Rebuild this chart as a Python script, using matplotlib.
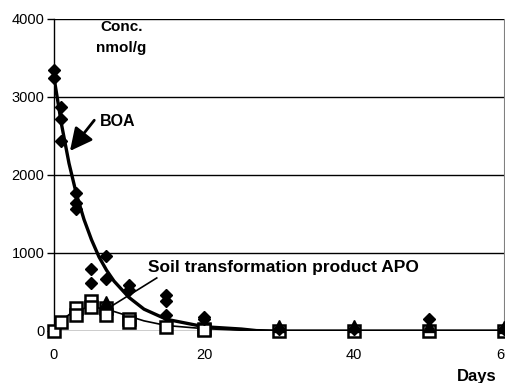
import matplotlib.pyplot as plt

plt.rcParams['font.family'] = ['Liberation Sans', 'DejaVu Sans']

# measured BOA concentrations (nmol/g), diamonds
boa_days = [0, 0, 1, 1, 1, 3, 3, 3, 5, 5, 7, 7, 10, 10, 15, 15, 15, 20, 20, 30, 40, 50, 60]
boa_vals = [3350, 3250, 2870, 2720, 2430, 1770, 1640, 1570, 800, 620, 960, 670,
            590, 530, 460, 390, 205, 180, 150, 30, 30, 150, 30]

# soil transformation product APO, open squares
apo_days = [0, 1, 3, 3, 5, 5, 7, 7, 10, 10, 15, 20, 20, 30, 40, 50, 60]
apo_vals = [0, 120, 290, 200, 390, 310, 300, 210, 150, 120, 55, 30, 10, 0, 0, 0, 0]

# filled triangles
tri_days = [7, 30, 40, 50, 60]
tri_vals = [370, 60, 60, 60, 50]

# fitted curves
boa_fit_days = [0, 1, 2, 3, 4, 5, 6, 7, 8, 10, 12, 15, 20, 25, 27, 30, 40, 50, 60]
boa_fit_vals = [3250, 2650, 2150, 1750, 1430, 1170, 950, 780, 640, 430, 280, 150, 55, 25, 5, 0, 0, 0, 0]
apo_fit_days = [0, 1, 2, 3, 4, 5, 6, 7, 8, 10, 12, 15, 20, 25, 30, 40, 50, 60]
apo_fit_vals = [0, 130, 210, 260, 290, 300, 295, 280, 250, 190, 130, 70, 30, 10, 0, 0, 0, 0]

fig = plt.figure(figsize=(5.06, 3.83), dpi=100)
ax = fig.add_axes([54 / 506, 52 / 383, 450 / 506, 312 / 383])

ax.plot(boa_fit_days, boa_fit_vals, color='black', lw=2.4, zorder=3)
ax.plot(apo_fit_days, apo_fit_vals, color='black', lw=1.2, zorder=3)
ax.plot(apo_days, apo_vals, 's', ms=8, mfc='white', mec='black', mew=1.8, zorder=4, clip_on=False)
ax.plot(boa_days, boa_vals, 'D', ms=6.5, color='black', zorder=5, clip_on=False)
ax.plot(tri_days, tri_vals, '^', ms=8, color='black', zorder=6, clip_on=False)

ax.set_xlim(0, 60)
ax.set_ylim(0, 4000)
ax.set_xticks([0, 20, 40, 60])
ax.set_yticks([0, 1000, 2000, 3000, 4000])
ax.tick_params(axis='x', length=0, pad=12, labelsize=10.5)
ax.tick_params(axis='y', length=5, width=1, pad=2, labelsize=10.5)
ax.grid(axis='y', color='black', lw=1)
ax.set_axisbelow(True)
for s in ['top', 'bottom']:
    ax.spines[s].set_visible(False)
ax.spines['left'].set_linewidth(1)
ax.spines['right'].set_color('#808080')

ax.text(9.0, 3897, 'Conc.', fontsize=11, fontweight='bold', ha='center', va='center')
ax.text(8.9, 3628, 'nmol/g', fontsize=11, fontweight='bold', ha='center', va='center')

ax.annotate('', xy=(1.9, 2280), xytext=(5.6, 2730),
            arrowprops=dict(arrowstyle='-|>', color='black', lw=2, mutation_scale=34))
ax.text(6.1, 2692, 'BOA', fontsize=11.5, fontweight='bold', ha='left', va='center')

ax.plot([13.7, 7.9], [680, 333], color='black', lw=1.2, zorder=3)
ax.text(12.5, 820, 'Soil transformation product APO', fontsize=12.5, fontweight='bold',
        ha='left', va='center')

fig.text(497 / 506, 1 - 376 / 383, 'Days', fontsize=12, fontweight='bold', ha='right', va='center')

fig.savefig('out.png', dpi=100)
